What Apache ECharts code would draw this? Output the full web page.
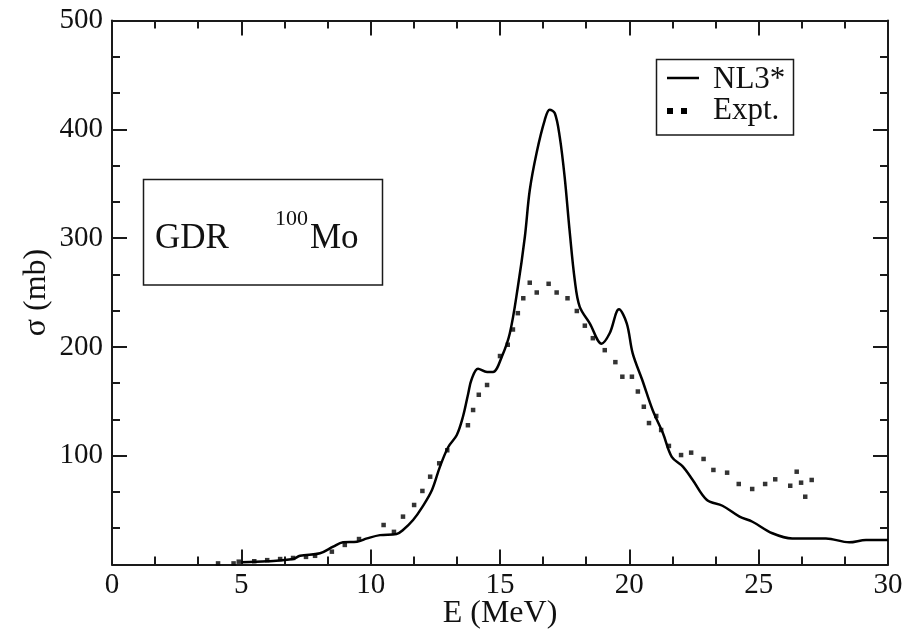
<!DOCTYPE html>
<html>
<head>
<meta charset="utf-8">
<script src="https://cdn.jsdelivr.net/npm/echarts@6/dist/echarts.min.js"></script>
<style>html,body{margin:0;padding:0;background:#fff}#c{width:916px;height:631px}</style>
</head>
<body>
<div id="c"></div>
<script>
var nl3E = [5.0,6.0,7.0,7.27,8.04,8.55,8.93,9.47,9.86,10.36,11.0,11.25,11.64,12.0,12.37,12.68,13.0,13.33,13.57,13.77,13.9,14.15,14.5,14.73,15.07,15.38,15.69,15.96,16.15,16.42,16.73,16.92,17.12,17.31,17.5,17.69,17.89,18.08,18.47,18.93,19.24,19.6,19.9,20.13,20.5,20.9,21.3,21.64,22.07,22.45,23.0,23.6,24.26,24.76,25.53,26.3,27.6,28.5,29.15,30.0];
var nl3Sigma = [2,3,5,8,10.3,16.4,20.4,21,24,27,28,31.7,40.9,53,68.5,90,108,119,136,157,170,180,177,177,191,212.5,255,301,344,379,408.5,418,414.7,393,356,307,261.5,237,221.7,203,212.5,234.5,221.7,194,169.6,142,120.6,99,90,77.7,59.3,54,44,39.3,28.7,24,24,20.4,22.5,22.5];
var exptE = [4.1,4.7,4.9,5.5,6.0,6.5,7.0,7.5,7.85,8.5,9.0,9.55,10.5,10.9,11.25,11.68,12.0,12.3,12.65,12.96,13.76,13.96,14.18,14.5,15.0,15.3,15.5,15.69,15.9,16.15,16.42,16.88,17.19,17.61,17.97,18.28,18.59,19.05,19.46,19.73,20.1,20.33,20.56,20.76,21.04,21.23,21.53,22.0,22.39,22.87,23.25,23.78,24.23,24.75,25.25,25.64,26.22,26.47,26.64,26.8,27.05];
var exptSigma = [1,1,2.6,3,4,5,6,7,8,11.8,18,23.4,36.3,30,44,54.7,67.6,80.7,93,105,128,142,156,165,191.6,202,216,231,244.7,259,250,258,250,244.7,233,219.5,208,197,186,172.6,172.6,159,145,130,136.5,123.6,109,100.6,102.8,97,86.9,84.4,74,69.4,74,78.3,72.4,85.3,75.2,62.3,77.7];
var xTicks = [0,5,10,15,20,25,30];
var yTicks = [100,200,300,400,500];
var seriesNames = ['NL3*','Expt.'];

var font = 'Liberation Serif';
var chart = echarts.init(document.getElementById('c'), null, {renderer:'canvas'});
function pairs(xs, ys){ return xs.map(function(x,i){return [x, ys[i]];}); }
function axisCommon(extra){
  var base = {
    type:'value',
    axisLine:{show:true, onZero:false, lineStyle:{color:'#1a1a1a', width:2}},
    axisTick:{show:true, inside:true, length:15, lineStyle:{color:'#1a1a1a', width:2}},
    minorTick:{show:true, splitNumber:3, length:8, lineStyle:{color:'#1a1a1a', width:2}},
    splitLine:{show:false},
    minorSplitLine:{show:false}
  };
  return Object.assign(base, extra);
}
var option = {
  backgroundColor:'#fff',
  animation:false,
  grid:{left:112, right:28, top:20.5, bottom:66.5, containLabel:false, outerBoundsMode:'none'},
  xAxis:[
    axisCommon({min:0, max:30, interval:5, position:'bottom',
      name:'E (MeV)', nameLocation:'middle', nameGap:33, nameMoveOverlap:false,
      nameTextStyle:{fontFamily:font, fontSize:32, color:'#111'},
      axisLabel:{fontFamily:font, fontSize:29, color:'#111', margin:6,
        formatter:function(v){return xTicks.indexOf(v)>=0 ? String(v) : '';}}}),
    axisCommon({min:0, max:30, interval:5, position:'top', axisLabel:{show:false}})
  ],
  yAxis:[
    axisCommon({min:0, max:500, interval:100, position:'left',
      name:'σ (mb)', nameLocation:'middle', nameGap:59, nameRotate:90, nameMoveOverlap:false,
      nameTextStyle:{fontFamily:font, fontSize:32, color:'#111'},
      axisLabel:{fontFamily:font, fontSize:29, color:'#111', margin:9,
        formatter:function(v){return yTicks.indexOf(v)>=0 ? String(v) : '';}}}),
    axisCommon({min:0, max:500, interval:100, position:'right', axisLabel:{show:false}})
  ],
  series:[
    {name:seriesNames[0], type:'line', data:pairs(nl3E, nl3Sigma), smooth:0.35, showSymbol:false, symbol:'none',
      lineStyle:{color:'#000', width:2.5}, z:3},
    {name:seriesNames[1], type:'scatter', data:pairs(exptE, exptSigma), symbol:'rect', symbolSize:4.5,
      itemStyle:{color:'#000'}, z:4}
  ],
  graphic:[
    {type:'rect', shape:{x:143.5, y:179.5, width:239, height:105.5}, style:{fill:'none', stroke:'#1a1a1a', lineWidth:1.5}},
    {type:'text', x:155, y:239, style:{text:'GDR', font:'35px "Liberation Serif"', fill:'#111', verticalAlign:'middle'}},
    {type:'text', x:275, y:219, style:{text:'100', font:'22px "Liberation Serif"', fill:'#111', verticalAlign:'middle'}},
    {type:'text', x:310, y:239, style:{text:'Mo', font:'35px "Liberation Serif"', fill:'#111', verticalAlign:'middle'}},
    {type:'rect', shape:{x:656.5, y:59.5, width:137, height:75.5}, style:{fill:'#fff', stroke:'#1a1a1a', lineWidth:1.5}},
    {type:'line', shape:{x1:667, y1:78, x2:699, y2:78}, style:{stroke:'#000', lineWidth:2.5}},
    {type:'text', x:713, y:80, style:{text:seriesNames[0], font:'31px "Liberation Serif"', fill:'#111', verticalAlign:'middle'}},
    {type:'rect', shape:{x:667, y:108, width:6, height:6}, style:{fill:'#000'}},
    {type:'rect', shape:{x:681, y:108, width:6, height:6}, style:{fill:'#000'}},
    {type:'text', x:713, y:111, style:{text:seriesNames[1], font:'31px "Liberation Serif"', fill:'#111', verticalAlign:'middle'}}
  ]
};
chart.setOption(option);
</script>
</body>
</html>
